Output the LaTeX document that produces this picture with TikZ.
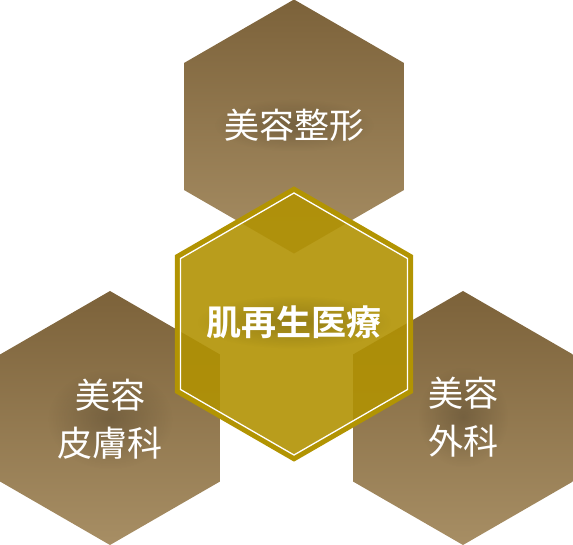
\documentclass[tikz,border=0pt]{standalone}
\usepackage{fontspec}
\newfontfamily\cjk[BoldFont={Noto Sans CJK JP Bold}]{Noto Sans CJK JP}
\usetikzlibrary{shapes.geometric, fadings}

\definecolor{browntop}{RGB}{124,98,58}
\definecolor{brownbot}{RGB}{167,142,100}
\definecolor{goldfill}{RGB}{177,146,3}
\definecolor{goldline}{RGB}{178,148,2}
\tikzfading[name=glowfade, inner color=transparent!45, outer color=transparent!100]

\begin{document}
\begin{tikzpicture}[x=1pt, y=-1pt,
    hexa/.style={regular polygon, regular polygon sides=6, shape border rotate=30, inner sep=0pt, minimum size=254pt},
    field/.style={hexa, top color=browntop, bottom color=brownbot},
    tag/.style={text=white, align=center, inner sep=10pt, font=\cjk\fontsize{35}{48}\selectfont,
        preaction={fill=black, fill opacity=0.35, path fading=glowfade}}]

    \useasboundingbox (0,0) rectangle (573,545);

    % three fields
    \node[field] (seikei) at (294,126.5) {};
    \node[field] (hifu) at (110,418) {};
    \node[field] (geka) at (463,418) {};

    % centre
    \node[hexa, minimum size=269.5pt, fill=goldfill, fill opacity=0.9, draw=goldline, line width=5pt] (regen) at (294,324) {};
    \node[hexa, minimum size=262pt, draw=white, line width=1.3pt] (regenin) at (regen.center) {};

    % labels
    \node[tag] (tseikei) at (294,125) {美容整形};
    \node[tag, font=\cjk\bfseries\fontsize{35}{48}\selectfont] (tregen) at (294,322) {肌再生医療};
    \node[tag] (thifu) at (110,419) {美容\\皮膚科};
    \node[tag] (tgeka) at (463,417) {美容\\外科};

\end{tikzpicture}
\end{document}
